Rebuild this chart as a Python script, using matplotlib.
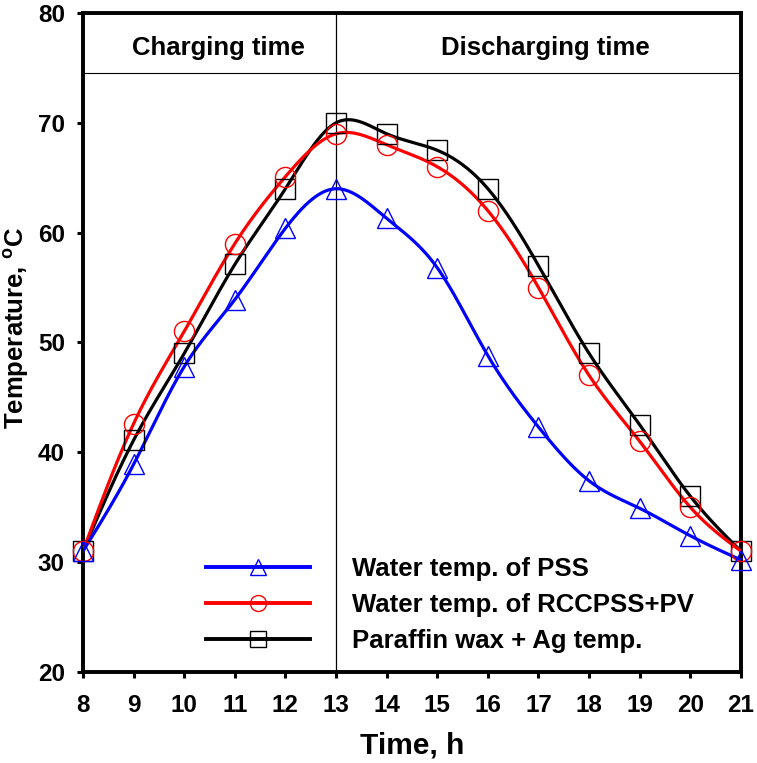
import numpy as np
import matplotlib
matplotlib.use('Agg')
import matplotlib.pyplot as plt
from matplotlib.lines import Line2D

plt.rcParams['font.family'] = ['Liberation Sans', 'DejaVu Sans']
plt.rcParams['font.weight'] = 'bold'

hours = [8, 9, 10, 11, 12, 13, 14, 15, 16, 17, 18, 19, 20, 21]
pss = [31, 38.9, 47.8, 53.9, 60.4, 64, 61.3, 56.8, 48.8, 42.3, 37.4, 34.9, 32.4, 30.2]
rccpss = [31, 42.6, 51, 59, 65.1, 69, 68, 66, 62, 55, 47, 41, 35, 31]
paraffin = [31, 41.1, 49, 57.1, 64, 70, 69, 67.5, 64, 57, 49, 42.5, 36, 31]

labels = ['Water temp. of PSS', 'Water temp. of RCCPSS+PV', 'Paraffin wax + Ag temp.']
colors = ['#0000ff', '#ff0000', '#000000']
markers = ['^', 'o', 's']


def smooth(x, y, n=400):
    # natural cubic spline, just for drawing the line
    x = np.asarray(x, float)
    y = np.asarray(y, float)
    k = len(x)
    h = np.diff(x)
    A = np.zeros((k, k))
    b = np.zeros(k)
    A[0, 0] = A[-1, -1] = 1
    for i in range(1, k - 1):
        A[i, i - 1] = h[i - 1]
        A[i, i] = 2 * (h[i - 1] + h[i])
        A[i, i + 1] = h[i]
        b[i] = 6 * ((y[i + 1] - y[i]) / h[i] - (y[i] - y[i - 1]) / h[i - 1])
    m = np.linalg.solve(A, b)
    xs = np.linspace(x[0], x[-1], n)
    idx = np.clip(np.searchsorted(x, xs) - 1, 0, k - 2)
    t = xs - x[idx]
    hi = h[idx]
    a = y[idx]
    c1 = (y[idx + 1] - y[idx]) / hi - hi * (2 * m[idx] + m[idx + 1]) / 6
    c2 = m[idx] / 2
    c3 = (m[idx + 1] - m[idx]) / (6 * hi)
    return xs, a + c1 * t + c2 * t ** 2 + c3 * t ** 3


fig = plt.figure(figsize=(7.57, 7.63), dpi=100)
ax = fig.add_axes([0.1096, 0.1193, 0.8692, 0.8637])

for y, c, mk in zip([paraffin, rccpss, pss], colors[::-1], markers[::-1]):
    xs, ys = smooth(hours, y)
    ax.plot(xs, ys, color=c, lw=2.3, zorder=3)
    ax.plot(hours, y, ls='none', marker=mk, ms=14.5, mfc='none', mec=c, mew=1.0, zorder=4, clip_on=False)

handles = []
for c, mk, lab in zip(colors, markers, labels):
    handles.append(Line2D([], [], color=c, lw=2.8, marker=mk, ms=11.5, mfc='none', mec=c, mew=1.0, label=lab))

# charging / discharging split
ax.axvline(13, color='black', lw=0.9, zorder=2)
ax.axhline(74.5, color='black', lw=0.8, zorder=2)
ax.text(10.67, 76.15, 'Charging time', ha='center', va='baseline', fontsize=18.5, fontweight='bold')
ax.text(17.14, 76.15, 'Discharging time', ha='center', va='baseline', fontsize=18.5, fontweight='bold')

ax.set_xlim(8, 21)
ax.set_ylim(20, 80)
ax.set_xticks(hours)
ax.set_yticks(range(20, 81, 10))
ax.tick_params(direction='out', length=4, width=2.2, labelsize=17.5)
ax.tick_params(axis='x', pad=12)
ax.tick_params(axis='y', pad=9)
for lbl in ax.get_xticklabels() + ax.get_yticklabels():
    lbl.set_fontweight('bold')
for s in ax.spines.values():
    s.set_linewidth(2.8)

ax.set_xlabel('Time, h', fontsize=21.5, fontweight='bold', labelpad=10)
ax.text(-0.101, 0.522, 'Temperature, $\\mathregular{^oC}$', transform=ax.transAxes, rotation=90,
        ha='center', va='center', fontsize=18.5, fontweight='bold')

ax.legend(handles=handles, loc='upper left', bbox_to_anchor=(0.187, 0.174), frameon=False,
          borderpad=0, borderaxespad=0, handlelength=4.05, handletextpad=1.63, labelspacing=0.46,
          prop={'weight': 'bold', 'size': 18.5})

fig.savefig('out.png', dpi=100)
